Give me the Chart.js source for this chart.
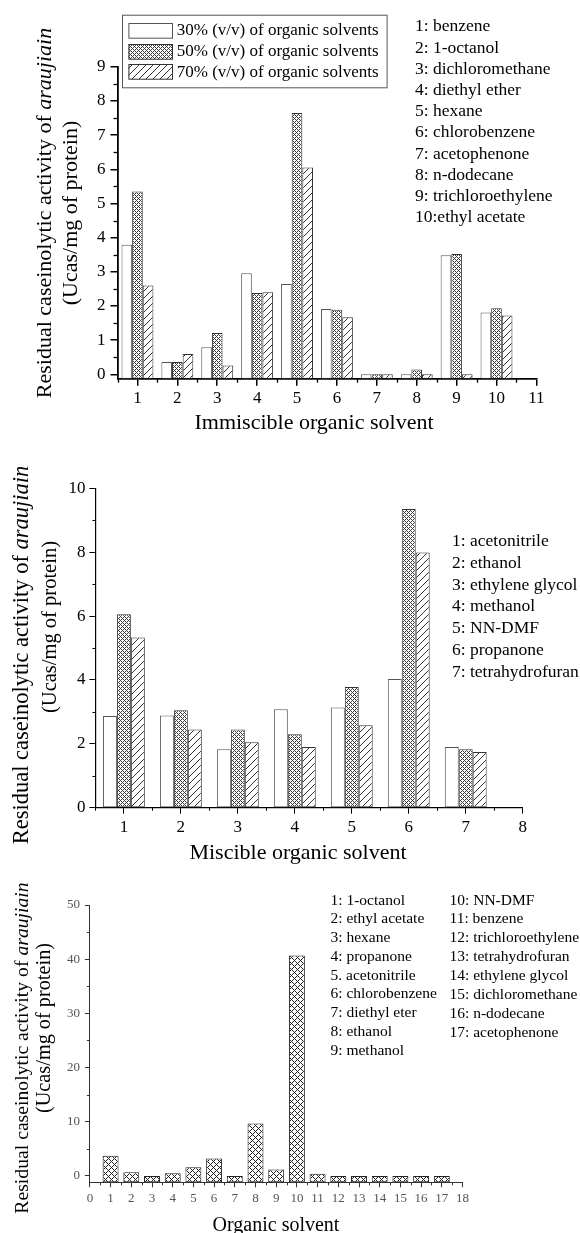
<!DOCTYPE html>
<html><head><meta charset="utf-8">
<script src="https://cdn.jsdelivr.net/npm/chart.js@4.4.1/dist/chart.umd.min.js"></script>
<style>
html,body{margin:0;padding:0;background:#fff;}
#page{position:relative;width:580px;height:1233px;overflow:hidden;font-family:'Liberation Serif','Times New Roman',serif;color:#000;}
canvas{position:absolute;left:0;}
.t{position:absolute;white-space:nowrap;line-height:1;}
.rot{transform:translate(-50%,-50%) rotate(-90deg);}
.ctr{transform:translate(-50%,-50%);}
.row{position:absolute;white-space:pre;}
</style></head>
<body><div id="page">
<canvas id="c1" width="580" height="440" style="top:0"></canvas>
<canvas id="c2" width="580" height="430" style="top:440px"></canvas>
<canvas id="c3" width="580" height="363" style="top:870px"></canvas>

<div class="t rot" style="left:43.5px;top:213px;font-size:22px">Residual caseinolytic activity of <i>araujiain</i></div>
<div class="t rot" style="left:70px;top:213px;font-size:22px">(Ucas/mg of protein)</div>
<div class="t ctr" style="left:314px;top:421.5px;font-size:22px">Immiscible organic solvent</div>

<div class="t rot" style="left:21px;top:655px;font-size:22.5px">Residual caseinolytic activity of <i>araujiain</i></div>
<div class="t rot" style="left:49px;top:627px;font-size:20.5px">(Ucas/mg of protein)</div>
<div class="t ctr" style="left:298px;top:851.5px;font-size:22px">Miscible organic solvent</div>

<div class="t rot" style="left:22px;top:1048px;font-size:19.7px">Residual caseinolytic activity of <i>araujiain</i></div>
<div class="t rot" style="left:43px;top:1028px;font-size:20.3px">(Ucas/mg of protein)</div>
<div class="t ctr" style="left:276px;top:1224px;font-size:20px">Organic solvent</div>
</div>
<script>
// ---------- data: chart 1 (immiscible) ----------
const IMM_X = [1, 2, 3, 4, 5, 6, 7, 8, 9, 10];
const IMM_30 = [3.79, 0.36, 0.79, 2.96, 2.64, 1.91, 0.00, 0.00, 3.48, 1.81];
const IMM_50 = [5.35, 0.36, 1.21, 2.38, 7.65, 1.89, 0.00, 0.14, 3.52, 1.93];
const IMM_70 = [2.60, 0.59, 0.26, 2.40, 6.05, 1.67, 0.00, 0.00, 0.00, 1.72];
const IMM_X_TICKS = [1, 2, 3, 4, 5, 6, 7, 8, 9, 10, 11];
const IMM_X_MINOR = [0.5, 1.5, 2.5, 3.5, 4.5, 5.5, 6.5, 7.5, 8.5, 9.5, 10.5];
const IMM_Y_TICKS = [0, 1, 2, 3, 4, 5, 6, 7, 8, 9];
const IMM_Y_MINOR = [0.5, 1.5, 2.5, 3.5, 4.5, 5.5, 6.5, 7.5, 8.5];
const IMM_NAMES = ['1: benzene', '2: 1-octanol', '3: dichloromethane', '4: diethyl ether', '5: hexane',
  '6: chlorobenzene', '7: acetophenone', '8: n-dodecane', '9: trichloroethylene', '10:ethyl acetate'];
const SERIES_LABELS = ['30% (v/v) of organic solvents', '50% (v/v) of organic solvents', '70% (v/v) of organic solvents'];

// ---------- data: chart 2 (miscible) ----------
const MIS_X = [1, 2, 3, 4, 5, 6, 7];
const MIS_30 = [2.87, 2.89, 1.83, 3.08, 3.14, 4.03, 1.90];
const MIS_50 = [6.06, 3.05, 2.45, 2.30, 3.78, 9.35, 1.83];
const MIS_70 = [5.33, 2.45, 2.05, 1.90, 2.58, 7.99, 1.74];
const MIS_X_TICKS = [1, 2, 3, 4, 5, 6, 7, 8];
const MIS_X_MINOR = [0.5, 1.5, 2.5, 3.5, 4.5, 5.5, 6.5, 7.5];
const MIS_Y_TICKS = [0, 2, 4, 6, 8, 10];
const MIS_Y_MINOR = [1, 3, 5, 7, 9];
const MIS_NAMES = ['1: acetonitrile', '2: ethanol', '3: ethylene glycol', '4: methanol', '5: NN-DMF',
  '6: propanone', '7: tetrahydrofuran'];

// ---------- data: chart 3 (all solvents) ----------
const ALL_X = [1, 2, 3, 4, 5, 6, 7, 8, 9, 10, 11, 12, 13, 14, 15, 16, 17];
const ALL_VALUES = [3.75, 0.68, 0.00, 0.50, 1.60, 3.20, 0.00, 9.70, 1.17, 40.7, 0.43, 0.00, 0.00, 0.00, 0.00, 0.00, 0.00];
const ALL_X_TICKS = [0, 1, 2, 3, 4, 5, 6, 7, 8, 9, 10, 11, 12, 13, 14, 15, 16, 17, 18];
const ALL_X_MINOR = [0.5, 1.5, 2.5, 3.5, 4.5, 5.5, 6.5, 7.5, 8.5, 9.5, 10.5, 11.5, 12.5, 13.5, 14.5, 15.5, 16.5, 17.5];
const ALL_Y_TICKS = [0, 10, 20, 30, 40, 50];
const ALL_Y_MINOR = [5, 15, 25, 35, 45];
const ALL_NAMES_A = ['1: 1-octanol', '2: ethyl acetate', '3: hexane', '4: propanone', '5. acetonitrile',
  '6: chlorobenzene', '7: diethyl eter', '8: ethanol', '9: methanol'];
const ALL_NAMES_B = ['10: NN-DMF', '11: benzene', '12: trichloroethylene', '13: tetrahydrofuran',
  '14: ethylene glycol', '15: dichloromethane', '16: n-dodecane', '17: acetophenone'];

// ---------- text lists ----------
const page = document.getElementById('page');
function addList(names, x, y0, step, size) {
  names.forEach((n, i) => {
    const d = document.createElement('div');
    d.className = 'row';
    d.textContent = n;
    d.style.left = x + 'px';
    d.style.top = (y0 + i * step - step / 2) + 'px';
    d.style.lineHeight = step + 'px';
    d.style.fontSize = size + 'px';
    page.appendChild(d);
  });
}
addList(IMM_NAMES, 415, 26, 21.2, 17.5);
addList(MIS_NAMES, 452, 540.7, 21.9, 17.5);
addList(ALL_NAMES_A, 330.5, 900, 18.75, 15.5);
addList(ALL_NAMES_B, 449.5, 900, 18.9, 15.5);

// ---------- patterns ----------
function makePattern(size, fn, color) {
  const c = document.createElement('canvas');
  c.width = size; c.height = size;
  const g = c.getContext('2d');
  g.fillStyle = '#fff'; g.fillRect(0, 0, size, size);
  g.fillStyle = color;
  for (let y = 0; y < size; y++) for (let x = 0; x < size; x++) if (fn(x, y)) g.fillRect(x, y, 1, 1);
  return g.createPattern(c, 'repeat');
}
const PAT_FINE = makePattern(4, (x, y) => (x + y) % 4 === 0 || (x - y + 4) % 4 === 0, '#3a3a3a');
const PAT_SLASH = makePattern(7, (x, y) => (x + y) % 7 === 0, '#333');
const PAT_CROSS = makePattern(6, (x, y) => (x + y) % 6 === 0 || (x - y + 6) % 6 === 0, '#222');

// ---------- plugins ----------
const minorTicks = {
  id: 'minorTicks',
  afterDraw(chart, args, o) {
    const ctx = chart.ctx, sx = chart.scales.x, sy = chart.scales.y;
    ctx.save();
    ctx.strokeStyle = o.color; ctx.lineWidth = o.width;
    (o.x || []).forEach(v => {
      const p = Math.round(sx.getPixelForValue(v)) + 0.5;
      ctx.beginPath(); ctx.moveTo(p, sx.top); ctx.lineTo(p, sx.top + o.len); ctx.stroke();
    });
    (o.y || []).forEach(v => {
      const p = Math.round(sy.getPixelForValue(v)) + 0.5;
      ctx.beginPath(); ctx.moveTo(sy.right, p); ctx.lineTo(sy.right - o.len, p); ctx.stroke();
    });
    ctx.restore();
  }
};
const boxLegend = {
  id: 'boxLegend',
  afterDraw(chart, args, o) {
    if (!o.display) return;
    const ctx = chart.ctx;
    ctx.save();
    ctx.lineWidth = 1;
    ctx.strokeStyle = '#555';
    ctx.strokeRect(o.x + 0.5, o.y + 0.5, o.w, o.h);
    ctx.font = o.font;
    ctx.textBaseline = 'middle';
    chart.data.datasets.forEach((ds, i) => {
      const cy = o.y + o.first + i * o.step;
      const top = Math.round(cy - o.sh / 2) + 0.5;
      ctx.fillStyle = ds.backgroundColor;
      ctx.fillRect(o.x + o.sx, top, o.sw, o.sh);
      ctx.strokeStyle = ds.borderColor;
      ctx.strokeRect(o.x + o.sx + 0.5, top, o.sw, o.sh);
      ctx.fillStyle = '#000';
      ctx.fillText(ds.label, o.x + o.tx, cy + 1);
    });
    ctx.restore();
  }
};

function pts(xs, ys) { return xs.map((x, i) => ({ x: x, y: ys[i] })); }

function barChart(id, o) {
  return new Chart(document.getElementById(id), {
    type: 'bar',
    data: { datasets: o.datasets },
    options: {
      responsive: false, animation: false,
      layout: { padding: o.padding },
      categoryPercentage: o.cat, barPercentage: o.bar,
      plugins: {
        legend: { display: false }, tooltip: { enabled: false },
        minorTicks: o.minor, boxLegend: o.legend || { display: false }
      },
      scales: {
        x: {
          type: 'linear', min: o.xMin, max: o.xMax, offset: false,
          afterBuildTicks: s => { s.ticks = o.xTicks.map(v => ({ value: v })); },
          afterFit: s => { s.height = 30; },
          grid: { offset: false, drawOnChartArea: false, tickLength: o.tickLen, color: o.axisColor, lineWidth: o.tickW },
          border: { display: true, color: o.axisColor, width: o.axisW },
          ticks: { font: { family: 'Liberation Serif', size: o.tickFont }, color: o.tickColor, padding: o.xPad, maxRotation: 0, autoSkip: false }
        },
        y: {
          type: 'linear', min: o.yMin, max: o.yMax,
          afterBuildTicks: s => { s.ticks = o.yTicks.map(v => ({ value: v })); },
          afterFit: s => { s.width = 40; },
          grid: { drawOnChartArea: false, tickLength: o.tickLen, color: o.axisColor, lineWidth: o.tickW },
          border: { display: true, color: o.axisColor, width: o.axisW },
          ticks: { font: { family: 'Liberation Serif', size: o.tickFont }, color: o.tickColor, padding: o.yPad }
        }
      }
    },
    plugins: [minorTicks, boxLegend]
  });
}

const IMM_MIN = -0.13;
barChart('c1', {
  datasets: [
    { label: SERIES_LABELS[0], data: pts(IMM_X, IMM_30), backgroundColor: '#fff', borderColor: '#555', borderWidth: 1, borderSkipped: false, base: IMM_MIN },
    { label: SERIES_LABELS[1], data: pts(IMM_X, IMM_50), backgroundColor: PAT_FINE, borderColor: '#333', borderWidth: 1, borderSkipped: false, base: IMM_MIN },
    { label: SERIES_LABELS[2], data: pts(IMM_X, IMM_70), backgroundColor: PAT_SLASH, borderColor: '#333', borderWidth: 1, borderSkipped: false, base: IMM_MIN }
  ],
  padding: { left: 77.5, right: 43.6, top: 66.8, bottom: 31.3 },
  cat: 0.8, bar: 1.0,
  xMin: 0.5, xMax: 11, yMin: IMM_MIN, yMax: 9,
  xTicks: IMM_X_TICKS, yTicks: IMM_Y_TICKS,
  tickLen: 7, tickW: 1.5, axisColor: '#000', axisW: 1.8, tickFont: 17, tickColor: '#000', xPad: 3, yPad: 5,
  minor: { x: IMM_X_MINOR, y: IMM_Y_MINOR, len: 4, color: '#000', width: 1.3 },
  legend: { display: true, x: 122, y: 14.7, w: 264.6, h: 72.6, sx: 6.4, sw: 43.6, sh: 14.7, tx: 54.8, first: 15.3, step: 20.85, font: '17px "Liberation Serif"' }
});

barChart('c2', {
  datasets: [
    { label: SERIES_LABELS[0], data: pts(MIS_X, MIS_30), backgroundColor: '#fff', borderColor: '#555', borderWidth: 1, borderSkipped: false },
    { label: SERIES_LABELS[1], data: pts(MIS_X, MIS_50), backgroundColor: PAT_FINE, borderColor: '#333', borderWidth: 1, borderSkipped: false },
    { label: SERIES_LABELS[2], data: pts(MIS_X, MIS_70), backgroundColor: PAT_SLASH, borderColor: '#333', borderWidth: 1, borderSkipped: false }
  ],
  padding: { left: 55.4, right: 57.3, top: 48.3, bottom: 32.3 },
  cat: 0.735, bar: 1.0,
  xMin: 0.5, xMax: 8, yMin: 0, yMax: 10,
  xTicks: MIS_X_TICKS, yTicks: MIS_Y_TICKS,
  tickLen: 6, tickW: 1, axisColor: '#000', axisW: 1.2, tickFont: 17, tickColor: '#000', xPad: 4, yPad: 4,
  minor: { x: MIS_X_MINOR, y: MIS_Y_MINOR, len: 3, color: '#000', width: 1 }
});

const ALL_MIN = -1.17;
barChart('c3', {
  datasets: [
    { label: 'Residual activity', data: pts(ALL_X, ALL_VALUES), backgroundColor: PAT_CROSS, borderColor: '#222', borderWidth: 1, borderSkipped: false, base: ALL_MIN }
  ],
  padding: { left: 49.9, right: 117.5, top: 35, bottom: 20.7 },
  cat: 0.77, bar: 1.0,
  xMin: 0, xMax: 18, yMin: ALL_MIN, yMax: 50,
  xTicks: ALL_X_TICKS, yTicks: ALL_Y_TICKS,
  tickLen: 5, tickW: 1, axisColor: '#333', axisW: 1, tickFont: 13, tickColor: '#555', xPad: 3, yPad: 5,
  minor: { x: ALL_X_MINOR, y: ALL_Y_MINOR, len: 3, color: '#333', width: 1 }
});
</script>
</body></html>
